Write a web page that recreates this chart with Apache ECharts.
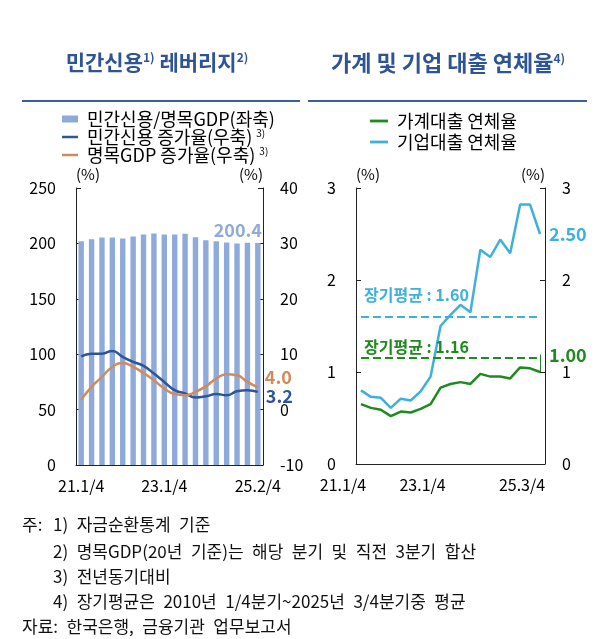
<!DOCTYPE html>
<html>
<head>
<meta charset="utf-8">
<script src="https://cdn.jsdelivr.net/npm/echarts@6.0.0/dist/echarts.min.js"></script>
<style>
  html, body { margin: 0; padding: 0; background: #fff; }
  #main { width: 610px; height: 639px; }
</style>
</head>
<body>
<div id="main"></div>
<script>
// 민간신용 레버리지 (좌)
var leftCats = ['21.1/4','21.2/4','21.3/4','21.4/4','22.1/4','22.2/4','22.3/4','22.4/4',
  '23.1/4','23.2/4','23.3/4','23.4/4','24.1/4','24.2/4','24.3/4','24.4/4','25.1/4','25.2/4'];
var creditToGdp = [202.0, 203.8, 205.3, 205.3, 204.4, 206.2, 208.0, 208.9, 208.0,
  208.0, 208.6, 205.6, 202.9, 202.0, 200.8, 199.9, 200.5, 200.4];
var creditGrowth = [9.6, 10.1, 10.1, 10.6, 9.5, 8.6, 7.9, 6.5, 5.0, 3.5, 2.9, 2.2,
  2.4, 2.8, 2.6, 3.3, 3.5, 3.2];
var gdpGrowth = [1.8, 4.1, 5.9, 7.7, 8.4, 7.7, 6.6, 5.3, 3.8, 2.8, 2.6, 3.2, 4.2,
  5.6, 6.4, 6.2, 5.0, 4.0];
var leftLabelIdx = [0, 8, 17];

// 가계 및 기업 대출 연체율 (우)
var rightCats = ['21.1/4','21.2/4','21.3/4','21.4/4','22.1/4','22.2/4','22.3/4','22.4/4',
  '23.1/4','23.2/4','23.3/4','23.4/4','24.1/4','24.2/4','24.3/4','24.4/4','25.1/4','25.2/4','25.3/4'];
var householdRate = [0.65, 0.61, 0.59, 0.52, 0.57, 0.56, 0.60, 0.65, 0.83, 0.87, 0.89,
  0.87, 0.98, 0.95, 0.95, 0.93, 1.05, 1.04, 1.00];
var corporateRate = [0.80, 0.73, 0.72, 0.61, 0.71, 0.69, 0.79, 0.95, 1.50, 1.62, 1.73,
  1.65, 2.33, 2.25, 2.44, 2.29, 2.82, 2.82, 2.50];
var householdAvg = 1.16;
var corporateAvg = 1.60;
var rightLabelIdx = [0, 8, 18];

var notes = [
  '1) 자금순환통계 기준',
  '2) 명목GDP(20년 기준)는 해당 분기 및 직전 3분기 합산',
  '3) 전년동기대비',
  '4) 장기평균은 2010년 1/4분기~2025년 3/4분기중 평균'
];
var source = '자료: 한국은행, 금융기관 업무보고서';

var FONT = '"Noto Sans CJK KR", "Noto Sans", sans-serif';
var cBar = '#8eaadb', cCredit = '#2f5597', cGdp = '#d08b5b';
var cHouse = '#1f8a1f', cCorp = '#3fb0db', cTitle = '#2f5496';
var lineIcon = 'path://M0,0 L16,0 L16,2.5 L0,2.5 Z';

var chart = echarts.init(document.getElementById('main'));

function yAx(grid, pos, min, max, step, nameAlign) {
  return {
    type: 'value', gridIndex: grid, position: pos, min: min, max: max, interval: step,
    name: '(%)', nameLocation: 'end', nameGap: 6,
    nameTextStyle: { fontFamily: FONT, fontSize: 15, color: '#000', align: nameAlign },
    axisLine: { show: true, lineStyle: { color: '#222', width: 1 } },
    axisTick: { show: true, inside: true, length: 5, lineStyle: { color: '#222' } },
    axisLabel: { fontFamily: FONT, fontSize: 16, color: '#000', margin: pos == 'left' ? 20 : 17 },
    splitLine: { show: false }
  };
}

function xAx(grid, cats, idx, pad) {
  return {
    type: 'category', gridIndex: grid, data: cats, boundaryGap: true,
    axisLine: { lineStyle: { color: '#222', width: 1 } },
    axisTick: { inside: true, interval: 3, length: 5, lineStyle: { color: '#222' } },
    axisLabel: {
      interval: function (i) { return idx.indexOf(i) >= 0; },
      fontFamily: FONT, fontSize: 16, color: '#000', margin: 13, padding: pad
    }
  };
}

// wide spaces like the original footnote font
function wide(s) { return s.replace(/ /g, '\u2002'); }

function noteText(x, y, s) {
  return { type: 'text', x: x, y: y,
    style: { text: wide(s), font: '17px ' + FONT, fill: '#111', textVerticalAlign: 'middle' } };
}

var lastBar = creditToGdp.length - 1;

var option = {
  animation: false,
  textStyle: { fontFamily: FONT },
  grid: [
    { left: 76, right: 347, top: 188, bottom: 174 },
    { left: 356, right: 65, top: 188, bottom: 175 }
  ],
  legend: [
    {
      orient: 'vertical', left: 62, top: 110, padding: 0, itemWidth: 16, itemHeight: 7, itemGap: 0,
      textStyle: {
        fontFamily: FONT, fontSize: 18, lineHeight: 18, color: '#000', padding: [0, 0, 0, 4],
        rich: { sup: { fontFamily: FONT, fontSize: 10, color: '#000', padding: [0, 0, 8, 0] } }
      },
      formatter: function (n) {
        return n.indexOf('증가율') >= 0 ? n + ' {sup|3)}' : n;
      },
      data: [
        { name: '민간신용/명목GDP(좌축)', icon: 'rect' },
        { name: '민간신용 증가율(우축)', icon: lineIcon },
        { name: '명목GDP 증가율(우축)', icon: lineIcon }
      ]
    },
    {
      orient: 'vertical', left: 370, top: 112, padding: 0, itemWidth: 18, itemHeight: 7, itemGap: 3,
      textStyle: { fontFamily: FONT, fontSize: 18, lineHeight: 18, color: '#000', padding: [0, 0, 0, 4] },
      data: [
        { name: '가계대출 연체율', icon: lineIcon },
        { name: '기업대출 연체율', icon: lineIcon }
      ]
    }
  ],
  xAxis: [
    xAx(0, leftCats, leftLabelIdx, [0, 0, 0, 0]),
    xAx(1, rightCats, rightLabelIdx, [0, 36, 0, 0])
  ],
  yAxis: [
    yAx(0, 'left', 0, 250, 50, 'left'),
    yAx(0, 'right', -10, 40, 10, 'right'),
    yAx(1, 'left', 0, 3, 1, 'left'),
    yAx(1, 'right', 0, 3, 1, 'right')
  ],
  series: [
    {
      name: '민간신용/명목GDP(좌축)', type: 'bar', xAxisIndex: 0, yAxisIndex: 0,
      barWidth: '52%', itemStyle: { color: cBar },
      data: creditToGdp.map(function (v, i) {
        if (i !== lastBar) return v;
        return {
          value: v,
          label: {
            show: true, position: 'top', offset: [-20, 0], distance: 4,
            formatter: function (p) { return p.value.toFixed(1); },
            fontFamily: FONT, fontSize: 18, fontWeight: 'bold', color: cBar
          }
        };
      })
    },
    {
      name: '민간신용 증가율(우축)', type: 'line', xAxisIndex: 0, yAxisIndex: 1,
      data: creditGrowth, smooth: true, symbol: 'none',
      lineStyle: { color: cCredit, width: 2.5 }, itemStyle: { color: cCredit },
      endLabel: {
        show: true, offset: [3, 4], distance: 5,
        formatter: function (p) { return p.value.toFixed(1); },
        fontFamily: FONT, fontSize: 18, fontWeight: 'bold', color: cCredit
      }
    },
    {
      name: '명목GDP 증가율(우축)', type: 'line', xAxisIndex: 0, yAxisIndex: 1,
      data: gdpGrowth, smooth: true, symbol: 'none',
      lineStyle: { color: cGdp, width: 2.5 }, itemStyle: { color: cGdp },
      endLabel: {
        show: true, offset: [2, -10], distance: 5,
        formatter: function (p) { return p.value.toFixed(1); },
        fontFamily: FONT, fontSize: 18, fontWeight: 'bold', color: cGdp
      }
    },
    {
      name: '가계대출 연체율', type: 'line', xAxisIndex: 1, yAxisIndex: 2,
      data: householdRate, symbol: 'none',
      lineStyle: { color: cHouse, width: 2.5 }, itemStyle: { color: cHouse },
      endLabel: {
        show: true, offset: [4, -17], distance: 5,
        formatter: function (p) { return p.value.toFixed(2); },
        fontFamily: FONT, fontSize: 18, fontWeight: 'bold', color: cHouse
      },
      markLine: {
        silent: true, symbol: 'none', animation: false,
        data: [
          [
            { coord: [rightCats[0], householdAvg],
              lineStyle: { color: cHouse, width: 2, type: [8, 4] },
              label: {
                show: true, position: 'insideStartTop', distance: [3, 2],
                formatter: '장기평균 : ' + householdAvg.toFixed(2),
                fontFamily: FONT, fontSize: 16, fontWeight: 'bold', color: cHouse
              } },
            { coord: [rightCats[rightCats.length - 1], householdAvg] }
          ],
          [
            { coord: [rightCats[rightCats.length - 1], householdRate[householdRate.length - 1]],
              lineStyle: { color: cHouse, width: 1, type: 'solid' },
              label: { show: false } },
            { coord: [rightCats[rightCats.length - 1], householdAvg + 0.03] }
          ]
        ]
      }
    },
    {
      name: '기업대출 연체율', type: 'line', xAxisIndex: 1, yAxisIndex: 2,
      data: corporateRate, symbol: 'none',
      lineStyle: { color: cCorp, width: 2.5 }, itemStyle: { color: cCorp },
      endLabel: {
        show: true, offset: [4, 0], distance: 5,
        formatter: function (p) { return p.value.toFixed(2); },
        fontFamily: FONT, fontSize: 18, fontWeight: 'bold', color: cCorp
      },
      markLine: {
        silent: true, symbol: 'none', animation: false,
        data: [
          [
            { coord: [rightCats[0], corporateAvg],
              lineStyle: { color: cCorp, width: 2, type: [8, 4] },
              label: {
                show: true, position: 'insideStartTop', distance: [3, 14],
                formatter: '장기평균 : ' + corporateAvg.toFixed(2),
                fontFamily: FONT, fontSize: 16, fontWeight: 'bold', color: cCorp
              } },
            { coord: [rightCats[rightCats.length - 1], corporateAvg] }
          ]
        ]
      }
    }
  ],
  graphic: [
    {
      type: 'text', x: 157, y: 62,
      style: {
        text: '{t|민간신용}{s|1)}{t| 레버리지}{s|2)}',
        textAlign: 'center', textVerticalAlign: 'middle',
        rich: {
          t: { fontFamily: FONT, fontSize: 21, fontWeight: 'bold', fill: cTitle },
          s: { fontFamily: FONT, fontSize: 12, fontWeight: 'bold', fill: cTitle, padding: [0, 0, 10, 0] }
        }
      }
    },
    {
      type: 'text', x: 448, y: 63,
      style: {
        text: '{t|가계 및 기업 대출 연체율}{s|4)}',
        textAlign: 'center', textVerticalAlign: 'middle',
        rich: {
          t: { fontFamily: FONT, fontSize: 22, fontWeight: 'bold', fill: cTitle },
          s: { fontFamily: FONT, fontSize: 12, fontWeight: 'bold', fill: cTitle, padding: [0, 0, 10, 0] }
        }
      }
    },
    { type: 'line', shape: { x1: 22, y1: 101, x2: 300, y2: 101 }, style: { stroke: '#3b5e9c', lineWidth: 2 } },
    { type: 'line', shape: { x1: 308, y1: 101, x2: 587, y2: 101 }, style: { stroke: '#3b5e9c', lineWidth: 2 } },
    noteText(22, 525, '주:'),
    noteText(53, 525, notes[0]),
    noteText(53, 552, notes[1]),
    noteText(53, 577, notes[2]),
    noteText(53, 602, notes[3]),
    noteText(22, 627, source)
  ]
};

chart.setOption(option);
</script>
</body>
</html>
